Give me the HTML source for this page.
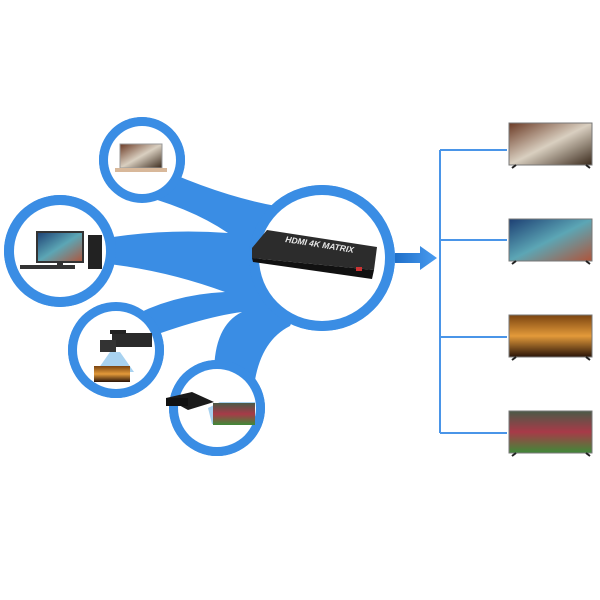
<!DOCTYPE html>
<html><head><style>body{margin:0;background:#fff}svg{display:block}</style></head><body>
<svg width="600" height="600" viewBox="0 0 600 600" xmlns="http://www.w3.org/2000/svg">
<defs>
<linearGradient id="ar" x1="0" x2="1"><stop offset="0" stop-color="#1f6fc9"/><stop offset="1" stop-color="#4a9cf0"/></linearGradient>
<linearGradient id="s1" x1="0" y1="0" x2="1" y2="1"><stop offset="0" stop-color="#6b3a25"/><stop offset=".5" stop-color="#d9cfc0"/><stop offset="1" stop-color="#3a2a1c"/></linearGradient>
<linearGradient id="s2" x1="0" y1="0" x2="1" y2="1"><stop offset="0" stop-color="#1d3f73"/><stop offset=".5" stop-color="#5ca6b5"/><stop offset="1" stop-color="#b0543a"/></linearGradient>
<linearGradient id="s3" x1="0" y1="0" x2="0" y2="1"><stop offset="0" stop-color="#7a4410"/><stop offset=".5" stop-color="#e39a3a"/><stop offset="1" stop-color="#2a1408"/></linearGradient>
<linearGradient id="s4" x1="0" y1="0" x2="0" y2="1"><stop offset="0" stop-color="#4a5a48"/><stop offset=".5" stop-color="#a83a48"/><stop offset="1" stop-color="#3f8a38"/></linearGradient>
</defs>
<g fill="#3a8de4">
<path d="M142,160 Q215,195 276,206 L322,258 L290,326 Q262,340 255,380 L217,408 Q205,330 242,312 Q195,318 116,350 Q140,300 60,251 Z"/>
<circle cx="142" cy="160" r="43"/>
<circle cx="60" cy="251" r="56"/>
<circle cx="116" cy="350" r="48"/>
<circle cx="217" cy="408" r="48"/>
<circle cx="322" cy="258" r="73"/>
</g>
<g fill="#fff">
<path d="M95,185 Q180,200 228,233 Q160,228 95,240 Z"/>
<path d="M90,262 Q160,268 225,292 Q160,295 110,330 Z"/>
</g>
<g fill="#3a8de4">
<circle cx="142" cy="160" r="43"/>
<circle cx="60" cy="251" r="56"/>
<circle cx="116" cy="350" r="48"/>
<circle cx="217" cy="408" r="48"/>
<circle cx="322" cy="258" r="73"/>
</g>
<g fill="#fff">
<circle cx="142" cy="160" r="34"/>
<circle cx="60" cy="251" r="46"/>
<circle cx="116" cy="350" r="39"/>
<circle cx="217" cy="408" r="39"/>
<circle cx="322" cy="258" r="63"/>
</g>
<rect x="120" y="144" width="42" height="24" fill="url(#s1)" stroke="#999"/>
<rect x="115" y="168" width="52" height="4" fill="#d8b89a"/>
<rect x="37" y="232" width="46" height="30" fill="url(#s2)" stroke="#333" stroke-width="2"/>
<rect x="57" y="262" width="6" height="5" fill="#333"/>
<rect x="20" y="265" width="55" height="4" fill="#333"/>
<rect x="88" y="235" width="14" height="34" fill="#222"/>
<rect x="112" y="333" width="40" height="14" fill="#2a2a2a"/>
<rect x="100" y="340" width="16" height="12" fill="#333"/>
<rect x="110" y="330" width="16" height="4" fill="#222"/>
<polygon points="110,352 120,352 134,372 96,372" fill="#a8d2f0"/>
<rect x="94" y="366" width="36" height="16" fill="url(#s3)"/>
<polygon points="166,398 192,392 214,402 188,410" fill="#1a1a1a"/>
<rect x="166" y="398" width="22" height="8" fill="#111"/>
<polygon points="208,408 220,402 255,402 255,424 212,424" fill="#a8d2f0"/>
<rect x="213" y="403" width="42" height="22" fill="url(#s4)"/>
<polygon points="252,248 267,230 377,247 374,270 252,258" fill="#2c2c2c"/>
<polygon points="252,258 374,270 372,279 253,262" fill="#111"/>
<text x="285" y="242" font-family="Liberation Sans, sans-serif" font-size="8.5" font-weight="bold" font-style="italic" fill="#e8e8e8" transform="rotate(9 285 242)">HDMI 4K MATRIX</text>
<rect x="356" y="267" width="6" height="4" fill="#c33"/>
<polygon points="395,253 420,253 420,246 437,258 420,270 420,263 395,263" fill="url(#ar)"/>
<g stroke="#4a95e8" stroke-width="2" fill="none">
<path d="M440 150 V433"/>
<path d="M440 150 H507 M440 240 H507 M440 337 H507 M440 433 H507"/>
</g>
<g stroke="#777" stroke-width="1">
<rect x="509" y="123" width="83" height="42" fill="url(#s1)"/>
<rect x="509" y="219" width="83" height="42" fill="url(#s2)"/>
<rect x="509" y="315" width="83" height="42" fill="url(#s3)"/>
<rect x="509" y="411" width="83" height="42" fill="url(#s4)"/>
</g>
<g stroke="#222" stroke-width="2">
<path d="M512 168 l4 -3 M590 168 l-4 -3 M512 264 l4 -3 M590 264 l-4 -3 M512 360 l4 -3 M590 360 l-4 -3 M512 456 l4 -3 M590 456 l-4 -3"/>
</g>
</svg>
</body></html>
